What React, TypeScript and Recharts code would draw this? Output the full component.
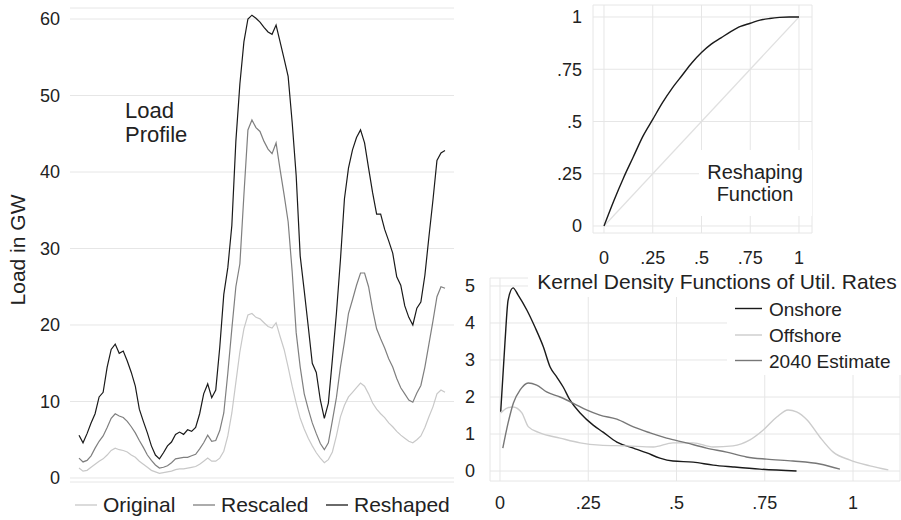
import React from 'react';
import { LineChart, Line, XAxis, YAxis, CartesianGrid } from 'recharts';

const FONT = '"Liberation Sans", Arial, Helvetica, sans-serif';
const TEXT = '#222222';
const GRID = '#e6e6e6';

// ---------- Load profile (left panel) ----------
const loadSeriesNames = ['Original', 'Rescaled', 'Reshaped'];
const loadColors = ['#c8c8c8', '#7f7f7f', '#1a1a1a'];
const loadTicks = [0, 10, 20, 30, 40, 50, 60];

const original = [
  1.3, 0.9, 1.0, 1.4, 1.8, 2.2, 2.5, 3.0, 3.6, 3.9, 3.7, 3.6, 3.4, 3.0, 2.7, 2.2, 1.8, 1.4, 1.0, 0.8,
  0.6, 0.7, 0.8, 0.9, 1.1, 1.2, 1.2, 1.3, 1.4, 1.5, 1.8, 2.2, 2.6, 2.2, 2.2, 2.6, 3.5, 5.5, 8.5, 12.5,
  16.5, 19.5, 21.3, 21.5, 21.0, 20.8, 20.3, 19.8, 19.6, 20.3, 18.5, 16.8, 14.5, 12.0, 9.8, 7.8, 6.4, 5.2, 4.2, 3.3,
  2.6, 2.0, 2.4, 3.4, 5.5, 8.0, 9.5, 10.6, 11.2, 11.8, 12.4, 12.0, 11.0, 9.8, 9.0, 8.4, 7.9, 7.2, 6.7, 6.1,
  5.6, 5.2, 4.8, 4.6, 5.0, 5.5, 6.6, 8.0, 9.3, 11.0, 11.5, 11.2,
];
const rescaled = [
  2.6, 2.1, 2.3, 2.9, 3.9, 4.8, 5.5, 6.6, 7.8, 8.4, 8.1, 7.9, 7.4, 6.7, 5.9, 4.9, 4.0, 3.0, 2.3, 1.7,
  1.3, 1.4, 1.6, 2.0, 2.5, 2.6, 2.7, 2.7, 2.9, 3.1, 3.8, 4.6, 5.6, 4.8, 4.9, 6.2, 8.5, 13.7, 19.5, 25.0,
  28.0, 37.0, 45.5, 46.8, 45.8, 45.3, 44.0, 43.0, 42.4, 43.8, 40.3, 37.0, 33.5, 27.0, 19.0, 14.5, 11.0, 9.0, 7.2, 5.8,
  4.5, 3.7, 4.6, 7.5, 10.5, 14.5, 17.8, 21.5, 23.3, 25.2, 26.8, 26.8, 25.0, 22.0, 19.5, 18.2, 17.0, 15.6, 14.5, 13.0,
  11.8, 11.0, 10.2, 9.9, 11.1, 12.1, 14.5, 17.5, 20.5, 23.7, 25.0, 24.8,
];
const reshaped = [
  5.6, 4.6, 5.8, 7.2, 8.4, 10.6, 11.2, 14.5, 16.8, 17.5, 16.3, 16.6, 15.3, 13.8, 12.0, 9.0, 7.4, 5.9, 4.2, 3.0,
  2.5, 3.3, 4.2, 4.7, 5.7, 6.0, 5.7, 6.3, 6.1, 6.6, 8.4, 11.0, 12.3, 10.5, 11.5, 17.1, 24.0, 27.5, 33.0, 44.0,
  51.5, 57.0, 60.0, 60.5, 60.1, 59.6, 58.9, 58.3, 58.0, 59.2, 57.0, 54.8, 52.5, 46.5, 39.5, 29.0, 24.5, 19.8, 15.0, 13.8,
  10.2, 7.8, 9.8, 15.5, 21.5, 28.5, 36.5, 40.5, 42.9, 44.5, 45.5, 43.8, 40.5, 37.3, 34.5, 34.5, 32.5, 31.0, 29.4, 26.3,
  25.2, 22.5, 21.0, 20.0, 22.2, 23.0, 26.5, 31.5, 36.3, 41.5, 42.5, 42.8,
];
const loadData = original.map((v, i) => ({
  hour: i,
  Original: v,
  Rescaled: rescaled[i],
  Reshaped: reshaped[i],
}));

// ---------- Reshaping function (top right) ----------
const unitTicks = [0, 0.25, 0.5, 0.75, 1];
const unitTickLabels = ['0', '.25', '.5', '.75', '1'];
const reshapeX = [0, 0.05, 0.1, 0.15, 0.2, 0.25, 0.3, 0.35, 0.4, 0.45, 0.5, 0.55, 0.6, 0.65, 0.7, 0.75, 0.8, 0.85, 0.9, 0.95, 1];
const reshapeY = [0, 0.12, 0.23, 0.33, 0.43, 0.51, 0.59, 0.66, 0.72, 0.78, 0.83, 0.87, 0.9, 0.93, 0.955, 0.97, 0.985, 0.993, 0.998, 1.0, 1.0];
const diagX = [0, 1];
const diagY = [0, 1];
const reshapeData = reshapeX.map((x, i) => ({ x, y: reshapeY[i] }));
const diagData = diagX.map((x, i) => ({ x, y: diagY[i] }));

// ---------- Kernel densities (bottom right) ----------
const kdeNames = ['Onshore', 'Offshore', '2040 Estimate'];
const kdeColors = ['#1a1a1a', '#cccccc', '#777777'];
const kdeYTicks = [0, 1, 2, 3, 4, 5];
const onshoreX = [0.002, 0.014, 0.023, 0.037, 0.051, 0.076, 0.099, 0.123, 0.142, 0.161, 0.179, 0.198, 0.227, 0.264, 0.292, 0.331, 0.378, 0.416, 0.453, 0.49, 0.547, 0.604, 0.66, 0.736, 0.84];
const onshoreY = [1.6, 3.46, 4.62, 4.95, 4.76, 4.35, 3.89, 3.35, 2.81, 2.54, 2.27, 1.92, 1.57, 1.24, 1.05, 0.78, 0.62, 0.49, 0.35, 0.27, 0.24, 0.16, 0.11, 0.05, 0.0];
const offshoreX = [0.002, 0.02, 0.037, 0.062, 0.08, 0.113, 0.17, 0.227, 0.283, 0.36, 0.434, 0.49, 0.547, 0.604, 0.66, 0.708, 0.745, 0.784, 0.816, 0.84, 0.87, 0.906, 0.944, 0.99, 1.048, 1.1];
const offshoreY = [1.57, 1.7, 1.73, 1.57, 1.2, 1.03, 0.89, 0.76, 0.7, 0.68, 0.65, 0.76, 0.76, 0.65, 0.68, 0.84, 1.1, 1.46, 1.65, 1.6, 1.38, 0.92, 0.51, 0.3, 0.14, 0.03];
const estX = [0.008, 0.023, 0.038, 0.057, 0.08, 0.104, 0.132, 0.17, 0.208, 0.245, 0.283, 0.331, 0.378, 0.425, 0.472, 0.528, 0.585, 0.642, 0.698, 0.755, 0.83, 0.906, 0.963];
const estY = [0.62, 1.3, 1.84, 2.19, 2.38, 2.32, 2.14, 2.0, 1.83, 1.65, 1.51, 1.4, 1.19, 1.03, 0.89, 0.76, 0.62, 0.51, 0.38, 0.32, 0.27, 0.19, 0.05];
const toXY = (xs: number[], ys: number[]) => xs.map((x, i) => ({ x, y: ys[i] }));
const kdeData = [toXY(onshoreX, onshoreY), toXY(offshoreX, offshoreY), toXY(estX, estY)];

const unitFmt = (v: number) => {
  const i = unitTicks.indexOf(v);
  return i >= 0 ? unitTickLabels[i] : String(v);
};

const tickStyle = { fontSize: 18, fill: TEXT, fontFamily: FONT };

export default function App() {
  return (
    <div style={{ position: 'absolute', left: 0, top: 0, width: 901, height: 520, background: '#fff', fontFamily: FONT }}>
      {/* Left: load profile */}
      <div style={{ position: 'absolute', left: 0, top: 0 }}>
        <LineChart width={460} height={520} data={loadData} margin={{ top: 8, right: 6, bottom: 38, left: 0 }}>
          <CartesianGrid vertical={false} stroke={GRID} />
          <XAxis dataKey="hour" type="number" domain={[-2.238, 93.238]} hide />
          <YAxis
            type="number"
            domain={[-0.523, 61.438]}
            ticks={loadTicks}
            width={70}
            axisLine={false}
            tickLine={false}
            tickSize={0}
            tickMargin={10}
            interval={0}
            tick={tickStyle}
          />
          {loadSeriesNames.map((name, i) => (
            <Line
              key={name}
              dataKey={name}
              type="linear"
              stroke={loadColors[i]}
              strokeWidth={1.2}
              dot={false}
              isAnimationActive={false}
            />
          ))}
        </LineChart>
      </div>

      {/* Top right: reshaping function */}
      <div style={{ position: 'absolute', left: 500, top: 0 }}>
        <LineChart width={401} height={270} margin={{ top: 5, right: 89, bottom: 7, left: 0 }}>
          <CartesianGrid stroke={GRID} />
          <XAxis
            dataKey="x"
            type="number"
            domain={[-0.0564, 1.0667]}
            ticks={unitTicks}
            tickFormatter={unitFmt}
            height={30}
            axisLine={false}
            tickLine={false}
            tickSize={0}
            tickMargin={18}
            interval={0}
            tick={tickStyle}
          />
          <YAxis
            type="number"
            domain={[-0.0335, 1.0574]}
            ticks={unitTicks}
            tickFormatter={unitFmt}
            width={93}
            axisLine={false}
            tickLine={false}
            tickSize={0}
            tickMargin={11}
            interval={0}
            tick={tickStyle}
          />
          <Line data={diagData} dataKey="y" type="linear" stroke="#e0e0e0" strokeWidth={1.2} dot={false} isAnimationActive={false} />
          <Line data={reshapeData} dataKey="y" type="monotone" stroke="#1a1a1a" strokeWidth={1.4} dot={false} isAnimationActive={false} />
        </LineChart>
      </div>

      {/* Bottom right: kernel densities */}
      <div style={{ position: 'absolute', left: 460, top: 260 }}>
        <LineChart width={441} height={260} margin={{ top: 18, right: 1, bottom: 9, left: 0 }}>
          <CartesianGrid stroke={GRID} />
          <XAxis
            dataKey="x"
            type="number"
            domain={[-0.0283, 1.1331]}
            ticks={unitTicks}
            tickFormatter={unitFmt}
            height={30}
            axisLine={false}
            tickLine={false}
            tickSize={0}
            tickMargin={15}
            interval={0}
            tick={tickStyle}
          />
          <YAxis
            type="number"
            domain={[-0.27, 5.216]}
            ticks={kdeYTicks}
            width={30}
            axisLine={false}
            tickLine={false}
            tickSize={0}
            tickMargin={15}
            interval={0}
            tick={tickStyle}
          />
          {kdeNames.map((name, i) => (
            <Line
              key={name}
              data={kdeData[i]}
              dataKey="y"
              name={name}
              type="monotone"
              stroke={kdeColors[i]}
              strokeWidth={1.4}
              dot={false}
              isAnimationActive={false}
            />
          ))}
        </LineChart>
      </div>

      {/* Annotations overlay */}
      <svg width={901} height={520} style={{ position: 'absolute', left: 0, top: 0, pointerEvents: 'none' }} fontFamily={FONT}>
        <text x={-250} y={25} transform="rotate(-90)" textAnchor="middle" fontSize={21} fill={TEXT}>Load in GW</text>
        <text x={125} y={118} fontSize={22} fill={TEXT}>Load</text>
        <text x={125} y={142} fontSize={22} fill={TEXT}>Profile</text>

        {loadSeriesNames.map((name, i) => {
          const lx = [75, 193, 326][i];
          return (
            <g key={name}>
              <line x1={lx} x2={lx + 22} y1={505} y2={505} stroke={loadColors[i]} strokeWidth={1.3} />
              <text x={lx + 28} y={512} fontSize={21} fill={TEXT}>{name}</text>
            </g>
          );
        })}

        <rect x={699} y={150} width={113} height={66} fill="#fff" />
        <text x={755} y={179} textAnchor="middle" fontSize={20} fill={TEXT}>Reshaping</text>
        <text x={755} y={201} textAnchor="middle" fontSize={20} fill={TEXT}>Function</text>

        <rect x={528} y={267} width={373} height={30} fill="#fff" />
        <text x={717} y={289} textAnchor="middle" fontSize={21} fill={TEXT}>Kernel Density Functions of Util. Rates</text>

        <rect x={727} y={297} width={174} height={78} fill="#fff" />
        {kdeNames.map((name, i) => {
          const ly = [308.5, 335, 360.5][i];
          return (
            <g key={name}>
              <line x1={735} x2={762} y1={ly} y2={ly} stroke={kdeColors[i]} strokeWidth={1.4} />
              <text x={769} y={ly + 7} fontSize={19} fill={TEXT}>{name}</text>
            </g>
          );
        })}
      </svg>
    </div>
  );
}
